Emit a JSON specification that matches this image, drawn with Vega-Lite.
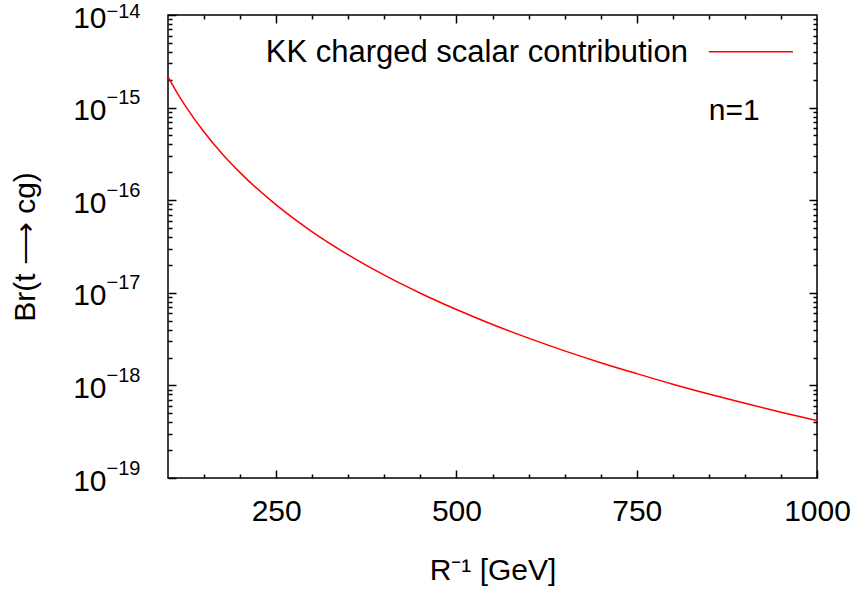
{
  "$schema": "https://vega.github.io/schema/vega-lite/v6.json",
  "width": 649,
  "height": 463,
  "autosize": {"type": "none"},
  "padding": {"left": 168, "top": 15, "right": 44, "bottom": 118},
  "background": "white",
  "config": {
    "view": {"stroke": "black", "strokeWidth": 1.5},
    "font": "Liberation Sans",
    "axis": {
      "grid": false,
      "domain": false,
      "tickColor": "black",
      "tickWidth": 1.5,
      "labelColor": "black",
      "titleColor": "black",
      "labelFont": "Liberation Sans",
      "titleFont": "Liberation Sans",
      "labelFontSize": 30,
      "titleFontSize": 30,
      "titleFontWeight": "normal",
      "labelFlush": false,
      "labelOverlap": false,
      "labelBound": false
    }
  },
  "data": {
    "values": [
      {"R": 100, "Br": 2.158e-15},
      {"R": 112.5, "Br": 1.455e-15},
      {"R": 125, "Br": 1.019e-15},
      {"R": 150, "Br": 5.45e-16},
      {"R": 175, "Br": 3.18e-16},
      {"R": 200, "Br": 1.985e-16},
      {"R": 250, "Br": 8.89e-17},
      {"R": 300, "Br": 4.56e-17},
      {"R": 350, "Br": 2.57e-17},
      {"R": 400, "Br": 1.55e-17},
      {"R": 450, "Br": 9.90e-18},
      {"R": 500, "Br": 6.60e-18},
      {"R": 550, "Br": 4.55e-18},
      {"R": 600, "Br": 3.24e-18},
      {"R": 650, "Br": 2.36e-18},
      {"R": 700, "Br": 1.76e-18},
      {"R": 750, "Br": 1.34e-18},
      {"R": 800, "Br": 1.03e-18},
      {"R": 850, "Br": 8.07e-19},
      {"R": 900, "Br": 6.40e-19},
      {"R": 950, "Br": 5.13e-19},
      {"R": 1000, "Br": 4.16e-19}
    ]
  },
  "layer": [
    {
      "mark": {"type": "line", "color": "#ff0000", "strokeWidth": 1.5, "interpolate": "monotone"},
      "encoding": {
        "x": {
          "field": "R", "type": "quantitative",
          "scale": {"domain": [100, 1000], "nice": false, "zero": false},
          "axis": {"orient": "bottom", "values": [250, 500, 750, 1000], "format": "d", "tickSize": -8, "labelPadding": 26, "title": "R⁻¹ [GeV]", "titlePadding": 29}
        },
        "y": {
          "field": "Br", "type": "quantitative",
          "scale": {"type": "log", "domain": [1e-19, 1e-14], "nice": false},
          "axis": {"orient": "left", "values": [1e-19, 1e-18, 1e-17, 1e-16, 1e-15, 1e-14], "tickSize": -8, "labelPadding": 70, "labelExpr": "'10'", "labelAlign": "right", "labelBaseline": "middle", "labelOffset": 3, "title": "Br(t ⟶ cg)", "titlePadding": 32}
        }
      }
    },
    {
      "mark": {"type": "line", "opacity": 0},
      "encoding": {
        "x": {
          "field": "R", "type": "quantitative",
          "scale": {"domain": [100, 1000], "nice": false, "zero": false},
          "axis": {"orient": "bottom", "values": [150, 200, 300, 350, 400, 450, 550, 600, 650, 700, 800, 850, 900, 950], "tickSize": -4, "labels": false, "title": null}
        },
        "y": {
          "field": "Br", "type": "quantitative",
          "scale": {"type": "log", "domain": [1e-19, 1e-14], "nice": false},
          "axis": {"orient": "left", "values": [2e-19, 3e-19, 4e-19, 5e-19, 6e-19, 7e-19, 8e-19, 9e-19, 2e-18, 3e-18, 4e-18, 5e-18, 6e-18, 7e-18, 8e-18, 9e-18, 2e-17, 3e-17, 4e-17, 5e-17, 6e-17, 7e-17, 8e-17, 9e-17, 2e-16, 3e-16, 4e-16, 5e-16, 6e-16, 7e-16, 8e-16, 9e-16, 2e-15, 3e-15, 4e-15, 5e-15, 6e-15, 7e-15, 8e-15, 9e-15], "tickSize": -4, "labels": false, "title": null}
        }
      }
    },
    {
      "mark": {"type": "line", "opacity": 0},
      "encoding": {
        "x": {
          "field": "R", "type": "quantitative",
          "scale": {"domain": [100, 1000], "nice": false, "zero": false},
          "axis": {"orient": "top", "values": [250, 500, 750], "tickSize": -8, "labels": false, "title": null}
        },
        "y": {
          "field": "Br", "type": "quantitative",
          "scale": {"type": "log", "domain": [1e-19, 1e-14], "nice": false},
          "axis": {"orient": "right", "values": [1e-18, 1e-17, 1e-16, 1e-15], "tickSize": -8, "labels": false, "title": null}
        }
      }
    },
    {
      "mark": {"type": "line", "opacity": 0},
      "encoding": {
        "x": {
          "field": "R", "type": "quantitative",
          "scale": {"domain": [100, 1000], "nice": false, "zero": false},
          "axis": {"orient": "top", "values": [150, 200, 300, 350, 400, 450, 550, 600, 650, 700, 800, 850, 900, 950], "tickSize": -4, "labels": false, "title": null}
        },
        "y": {
          "field": "Br", "type": "quantitative",
          "scale": {"type": "log", "domain": [1e-19, 1e-14], "nice": false},
          "axis": {"orient": "right", "values": [2e-19, 3e-19, 4e-19, 5e-19, 6e-19, 7e-19, 8e-19, 9e-19, 2e-18, 3e-18, 4e-18, 5e-18, 6e-18, 7e-18, 8e-18, 9e-18, 2e-17, 3e-17, 4e-17, 5e-17, 6e-17, 7e-17, 8e-17, 9e-17, 2e-16, 3e-16, 4e-16, 5e-16, 6e-16, 7e-16, 8e-16, 9e-16, 2e-15, 3e-15, 4e-15, 5e-15, 6e-15, 7e-15, 8e-15, 9e-15], "tickSize": -4, "labels": false, "title": null}
        }
      }
    },
    {
      "mark": {"type": "line", "opacity": 0},
      "encoding": {
        "x": {"field": "R", "type": "quantitative", "scale": {"domain": [100, 1000], "nice": false, "zero": false}, "axis": null},
        "y": {
          "field": "Br", "type": "quantitative",
          "scale": {"type": "log", "domain": [1e-19, 1e-14], "nice": false},
          "axis": {"orient": "left", "values": [1e-19, 1e-18, 1e-17, 1e-16, 1e-15, 1e-14], "ticks": false, "labelPadding": 62, "labelAlign": "left", "labelBaseline": "middle", "labelFontSize": 20, "labelOffset": {"condition": {"test": "datum.value > 5e-15", "value": -4}, "value": -10}, "labelExpr": "'−' + round(-log(datum.value)/LN10)", "title": null}
        }
      }
    },
    {
      "data": {"values": [{}]},
      "mark": {"type": "text", "align": "right", "baseline": "middle", "fontSize": 31, "font": "Liberation Sans", "color": "black"},
      "encoding": {
        "x": {"datum": 821, "type": "quantitative", "axis": null},
        "y": {"datum": 3.86e-15, "type": "quantitative", "scale": {"type": "log", "domain": [1e-19, 1e-14], "nice": false}, "axis": null},
        "text": {"value": "KK charged scalar contribution"}
      }
    },
    {
      "data": {"values": [{}]},
      "mark": {"type": "rule", "color": "#ff0000", "strokeWidth": 1.5},
      "encoding": {
        "x": {"datum": 850, "type": "quantitative", "axis": null},
        "x2": {"datum": 966.6},
        "y": {"datum": 4.02e-15, "type": "quantitative", "scale": {"type": "log", "domain": [1e-19, 1e-14], "nice": false}, "axis": null}
      }
    },
    {
      "data": {"values": [{}]},
      "mark": {"type": "text", "align": "left", "baseline": "middle", "fontSize": 30, "font": "Liberation Sans", "color": "black"},
      "encoding": {
        "x": {"datum": 850, "type": "quantitative", "axis": null},
        "y": {"datum": 9.3e-16, "type": "quantitative", "scale": {"type": "log", "domain": [1e-19, 1e-14], "nice": false}, "axis": null},
        "text": {"value": "n=1"}
      }
    }
  ],
  "resolve": {"axis": {"x": "independent", "y": "independent"}}
}
